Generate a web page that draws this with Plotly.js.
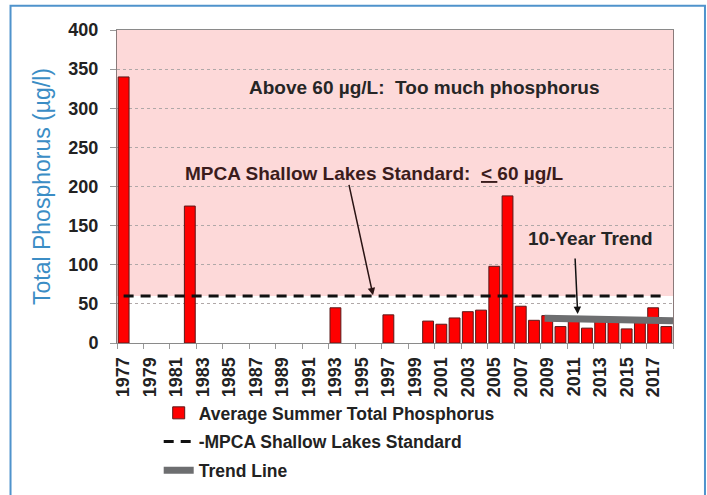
<!DOCTYPE html>
<html>
<head>
<meta charset="utf-8">
<script src="https://cdn.plot.ly/plotly-3.0.1.min.js"></script>
<style>html,body{margin:0;padding:0;background:#fff;overflow:hidden;width:707px;height:495px;}#chart{width:707px;height:520px;}</style>
</head>
<body>
<div id="chart"></div>
<script>
// ---- data ----
const years = [1977,1982,1993,1997,2000,2001,2002,2003,2004,2005,2006,2007,2008,2009,2010,2011,2012,2013,2014,2015,2016,2017,2018];
const totalPhosphorus = [340,175,45,36,28,24,32,40,42,98,188,47,29,35,21,29,19,28,29,18,26,45,21];
const standardYears = [1977,2018];
const standardValues = [60,60];
const trendYears = [2008.8,2018.5];
const trendValues = [31.6,28.4];
const tickYears = [1977,1979,1981,1983,1985,1987,1989,1991,1993,1995,1997,1999,2001,2003,2005,2007,2009,2011,2013,2015,2017];
const tickLabels = tickYears.map(String);
const minorTickYears = [];
for (let y = 1976.5; y <= 2018.5; y += 2) minorTickYears.push(y);
const yTicks = [0,50,100,150,200,250,300,350,400];

const F = 'Arial, "Liberation Sans", Helvetica, sans-serif';

const traces = [
  {
    type: 'bar', x: years, y: totalPhosphorus,
    name: 'Average Summer Total Phosphorus',
    marker: {color: '#ff0000', line: {color: '#5a1a1a', width: 1}},
    width: 0.82, legendgroup: 'a'
  },
  {
    type: 'scatter', mode: 'lines', x: standardYears, y: standardValues,
    name: '-MPCA Shallow Lakes Standard',
    line: {color: '#111', width: 3, dash: '10px,7px'}, legendgroup: 'b'
  },
  {
    type: 'scatter', mode: 'lines', x: trendYears, y: trendValues,
    name: 'Trend Line',
    line: {color: '#6d6e70', width: 7}, legendgroup: 'c'
  }
];

// figure is taller than the 495px window so the legend never pushes the plot margins
const layout = {
  width: 707, height: 520,
  margin: {l: 117, r: 34, t: 30, b: 177},
  paper_bgcolor: '#fff', plot_bgcolor: '#fff',
  font: {family: F, color: '#222'},
  showlegend: true,
  legend: {
    x: 0.075, y: -0.166, xanchor: 'left', yanchor: 'top',
    font: {family: F, size: 17.5, color: '#222', weight: 'bold'},
    tracegroupgap: 3, itemwidth: 30, bgcolor: 'rgba(0,0,0,0)'
  },
  xaxis: {
    range: [1976.5, 2018.5],
    tickmode: 'array', tickvals: tickYears, ticktext: tickLabels,
    tickangle: -90, ticks: '', ticklabelstandoff: 6,
    tickfont: {family: F, size: 18, color: '#222', weight: 'bold'},
    showgrid: false, zeroline: false,
    showline: true, linecolor: '#8a8a8a', linewidth: 1, mirror: true,
    minor: {tickmode: 'array', tickvals: minorTickYears, ticks: 'outside', ticklen: 5, tickcolor: '#999', showgrid: false}
  },
  yaxis: {
    range: [0, 400],
    tickmode: 'array', tickvals: yTicks,
    ticks: 'outside', ticklen: 6, tickcolor: '#999',
    tickfont: {family: F, size: 18, color: '#222', weight: 'bold'},
    ticklabelstandoff: 8,
    showgrid: true, gridcolor: '#b0a8a8', griddash: 'dot', gridwidth: 1,
    zeroline: false,
    showline: true, linecolor: '#8a7a7a', linewidth: 1, mirror: true,
    title: {text: 'Total Phosphorus (µg/l)', font: {family: F, size: 23, color: '#3b8dc5'}, standoff: 11}
  },
  shapes: [
    {type: 'rect', xref: 'paper', yref: 'y', x0: 0, x1: 1, y0: 60, y1: 400,
     fillcolor: '#fdd9d9', line: {width: 0}, layer: 'below'},
    {type: 'rect', xref: 'paper', yref: 'paper', x0: -0.1915, x1: 1.0575, y0: -0.7, y1: 1.0775,
     fillcolor: 'rgba(0,0,0,0)', line: {color: '#4f93cc', width: 2}, layer: 'above'}
  ],
  annotations: [
    {x: 1999.7, y: 327, xref: 'x', yref: 'y', showarrow: false,
     text: 'Above 60 µg/L:  Too much phosphorus',
     font: {family: F, size: 19, color: '#262626', weight: 'bold'}},
    {x: 1995.95, y: 217, xref: 'x', yref: 'y', showarrow: false,
     text: 'MPCA Shallow Lakes Standard:  <u>&lt; </u>60 µg/L',
     font: {family: F, size: 19, color: '#3b1c1c', weight: 'bold'}},
    {x: 1995.84, y: 61, xref: 'x', yref: 'y', ax: 1994.0, ay: 204, axref: 'x', ayref: 'y',
     text: '', showarrow: true, arrowhead: 2, arrowsize: 1, arrowwidth: 1.5, arrowcolor: '#2a1414'},
    {x: 2012.3, y: 133, xref: 'x', yref: 'y', showarrow: false,
     text: '10-Year Trend',
     font: {family: F, size: 19, color: '#262626', weight: 'bold'}},
    {x: 2011.3, y: 37, xref: 'x', yref: 'y', ax: 2011.1, ay: 110, axref: 'x', ayref: 'y',
     text: '', showarrow: true, arrowhead: 2, arrowsize: 1, arrowwidth: 1.5, arrowcolor: '#111'}
  ]
};

Plotly.newPlot('chart', traces, layout, {displayModeBar: false, staticPlot: true});
</script>
</body>
</html>
